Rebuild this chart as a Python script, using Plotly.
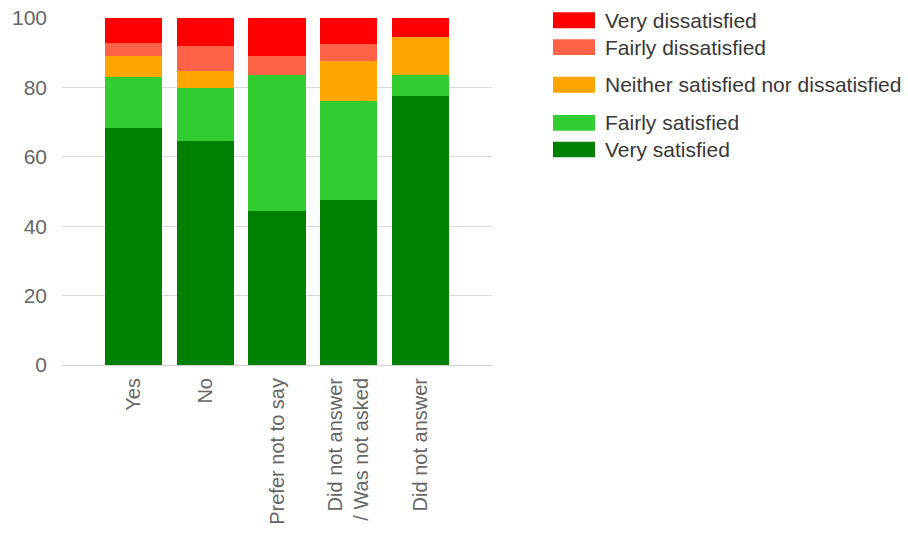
import plotly.graph_objects as go

categories = ["Yes", "No", "Prefer not to say", "Did not answer<br>/ Was not asked", "Did not answer"]
very_satisfied = [68.4, 64.5, 44.3, 47.6, 77.6]
fairly_satisfied = [14.7, 15.3, 39.3, 28.5, 6.1]
neither = [5.9, 5.0, 0.0, 11.4, 10.9]
fairly_dissatisfied = [3.8, 7.1, 5.5, 5.0, 0.0]
very_dissatisfied = [7.2, 8.1, 10.9, 7.5, 5.4]

series_names = ["Very satisfied", "Fairly satisfied", "Neither satisfied nor dissatisfied",
                "Fairly dissatisfied", "Very dissatisfied"]
series_values = [very_satisfied, fairly_satisfied, neither, fairly_dissatisfied, very_dissatisfied]
series_colors = ["#008000", "#32CD32", "#FFA500", "#FF6347", "#FF0000"]

# layout geometry (pixels)
W_FIG, H_FIG = 908, 533
L, T, R, B = 62, 18, 416, 168
PW, PH = W_FIG - L - R, H_FIG - T - B

def px_x(px):
    return (px - L) / PW

def px_y(py):
    return (T + PH - py) / PH

fig = go.Figure()
for name, vals, col in zip(series_names, series_values, series_colors):
    fig.add_trace(go.Bar(
        x=list(range(len(categories))), y=vals, name=name,
        marker=dict(color=col, line=dict(width=0)),
        showlegend=False,
    ))

# custom legend (top to bottom), rows with irregular spacing as in the reference
legend_rows = [(12.3, 28.3), (39.3, 55.0), (76.7, 92.7), (115.0, 130.7), (141.7, 157.3)]
legend_order = list(range(len(series_names)))[::-1]
shapes = []
annotations = []
for (y0, y1), idx in zip(legend_rows, legend_order):
    shapes.append(dict(type="rect", xref="paper", yref="paper",
                       x0=px_x(553), x1=px_x(595), y0=px_y(y1), y1=px_y(y0),
                       fillcolor=series_colors[idx], line=dict(width=0)))
    annotations.append(dict(xref="paper", yref="paper", x=px_x(603), y=px_y((y0 + y1) / 2),
                            text=series_names[idx], showarrow=False,
                            xanchor="left", yanchor="middle",
                            font=dict(family="Liberation Sans, Arial", size=21, color="#383838")))

fig.update_layout(
    width=W_FIG, height=H_FIG,
    margin=dict(l=L, r=R, t=T, b=B, pad=0, autoexpand=False),
    barmode="stack", bargap=0.2,
    plot_bgcolor="white", paper_bgcolor="white",
    font=dict(family="Liberation Sans, Arial", size=20, color="#666666"),
    shapes=shapes, annotations=annotations,
    xaxis=dict(
        range=[-1, 5], tickmode="array", tickvals=list(range(len(categories))),
        ticktext=categories, tickangle=-90, showgrid=False, zeroline=False,
        showline=False, ticks="", ticklabelstandoff=8, automargin=False,
        tickfont=dict(size=20, color="#666666"),
        fixedrange=True,
    ),
    yaxis=dict(
        range=[0, 100], tickvals=[0, 20, 40, 60, 80, 100], showgrid=True,
        gridcolor="#d9d9d9", gridwidth=1, zeroline=True, zerolinecolor="#d0d0d0",
        zerolinewidth=1, showline=False, ticks="", ticklabelstandoff=14,
        automargin=False,
        tickfont=dict(size=21, color="#666666"), fixedrange=True,
    ),
)

fig.write_html("out.html")
